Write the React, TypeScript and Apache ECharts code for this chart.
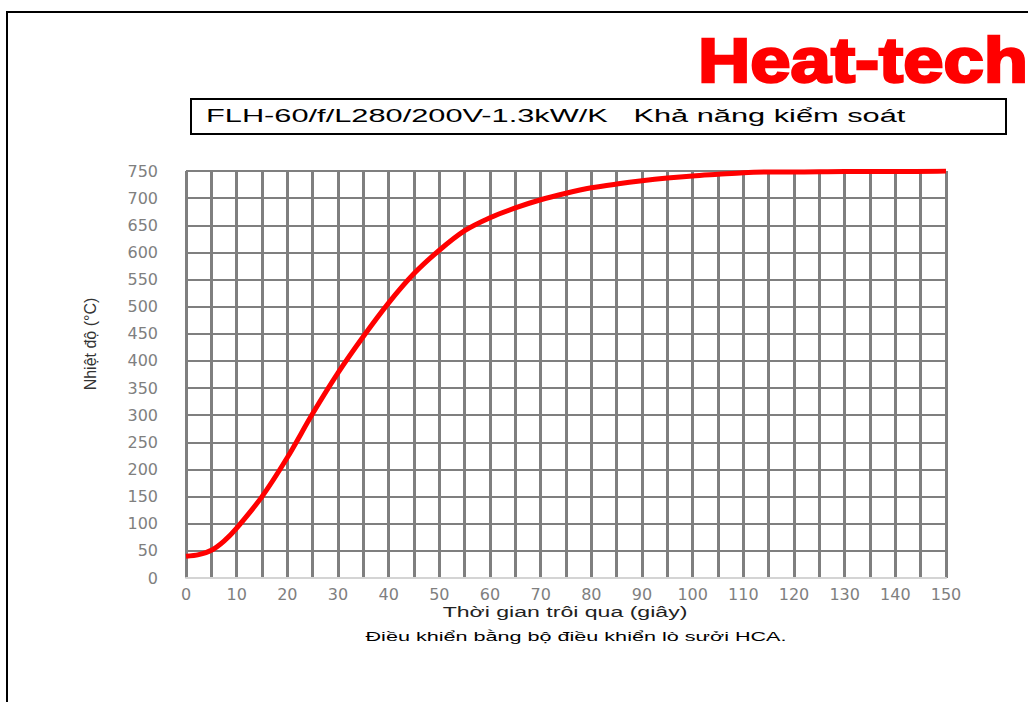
import React, { useEffect, useRef } from "react";
import * as echarts from "echarts";

const times = [0, 2.5, 5, 7.5, 10, 15, 20, 25, 30, 35, 40, 45, 50, 55, 60, 65, 70, 75, 80, 85, 90, 95, 100, 105, 110, 115, 120, 130, 140, 150];
const temps = [40, 43, 51, 68, 92, 150, 222, 303, 378, 445, 507, 561, 604, 640, 664, 682, 697, 709, 719, 726, 732, 737, 741, 744, 747, 748, 748, 749, 749, 750];
const xTickLabels = ["0", "10", "20", "30", "40", "50", "60", "70", "80", "90", "100", "110", "120", "130", "140", "150"];
const titleText = "FLH-60/f/L280/200V-1.3kW/K   Khả năng kiểm soát";
const logoText = "Heat-tech";
const xName = "Thời gian trôi qua (giây)";
const yName = "Nhiệt độ (°C)";
const caption = "Điều khiển bằng bộ điều khiển lò sưởi HCA.";

export default function App() {
  const ref = useRef<HTMLDivElement>(null);
  useEffect(() => {
    if (!ref.current) return;
    const chart = echarts.init(ref.current, null, { renderer: "svg" });
    const data = times.map((t, i) => [t, temps[i]]);
    chart.setOption({
      animation: false,
      backgroundColor: "#ffffff",
      grid: { left: 186, right: 82, top: 171, bottom: 124, containLabel: false },
      xAxis: {
        type: "value",
        min: 0,
        max: 150,
        interval: 5,
        axisLine: { show: true, lineStyle: { color: "#d4d4d4", width: 2 } },
        axisTick: { show: false },
        axisLabel: {
          margin: 8,
          color: "#7f7f7f",
          fontFamily: "DejaVu Sans",
          fontSize: 16,
          formatter: (v: number) => (xTickLabels.includes(String(v)) ? String(v) : ""),
        },
        splitLine: { show: true, lineStyle: { color: "#7f7f7f", width: 3 } },
      },
      yAxis: {
        type: "value",
        min: 0,
        max: 750,
        interval: 50,
        axisLine: { show: false },
        axisTick: { show: false },
        axisLabel: { margin: 28, color: "#7f7f7f", fontFamily: "DejaVu Sans", fontSize: 16 },
        splitLine: { show: true, showMinLine: false, lineStyle: { color: "#7f7f7f", width: 2 } },
      },
      series: [
        {
          type: "line",
          data,
          showSymbol: false,
          smooth: 0.3,
          lineStyle: { color: "#ff0000", width: 5 },
          z: 5,
        },
      ],
      graphic: [
        { type: "line", shape: { x1: 7, y1: 12, x2: 7, y2: 702 }, style: { stroke: "#000", lineWidth: 2 } },
        { type: "line", shape: { x1: 6, y1: 12, x2: 1028, y2: 12 }, style: { stroke: "#000", lineWidth: 2 } },
        {
          type: "text",
          x: 698,
          y: 60,
          scaleX: 1.15,
          style: {
            text: logoText,
            fill: "#ff0000",
            stroke: "#ff0000",
            lineWidth: 2.5,
            font: "bold 63px 'Liberation Sans'",
            align: "left",
            verticalAlign: "middle",
          },
        },
        {
          type: "rect",
          shape: { x: 191, y: 99, width: 815, height: 35 },
          style: { fill: "#fff", stroke: "#000", lineWidth: 2 },
        },
        {
          type: "text",
          x: 206,
          y: 115,
          scaleX: 1.62,
          style: {
            text: titleText,
            fill: "#000",
            font: "19px 'Liberation Sans'",
            align: "left",
            verticalAlign: "middle",
          },
        },
        {
          type: "text",
          x: 90,
          y: 344,
          rotation: Math.PI / 2,
          style: {
            text: yName,
            fill: "#333",
            font: "16px 'Liberation Sans'",
            align: "center",
            verticalAlign: "middle",
          },
        },
        {
          type: "text",
          x: 565,
          y: 612,
          scaleX: 1.65,
          style: {
            text: xName,
            fill: "#222",
            font: "14px 'Liberation Sans'",
            align: "center",
            verticalAlign: "middle",
          },
        },
        {
          type: "text",
          x: 576,
          y: 637,
          scaleX: 1.6,
          style: {
            text: caption,
            fill: "#000",
            font: "13.5px 'Liberation Sans'",
            align: "center",
            verticalAlign: "middle",
          },
        },
      ],
    });
    return () => chart.dispose();
  }, []);
  return <div ref={ref} style={{ position: "fixed", left: 0, top: 0, width: 1028, height: 702, background: "#fff" }} />;
}
